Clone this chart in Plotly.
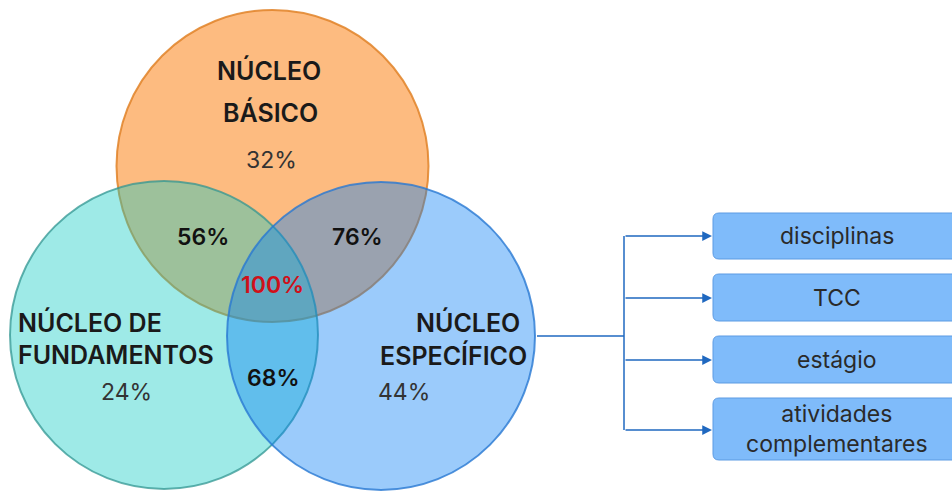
import plotly.graph_objects as go

# ---------------- data ----------------
core_names = ["NÚCLEO BÁSICO", "NÚCLEO DE FUNDAMENTOS", "NÚCLEO ESPECÍFICO"]
core_pcts = [32, 24, 44]
pair_names = ["BÁSICO + FUNDAMENTOS", "BÁSICO + ESPECÍFICO", "FUNDAMENTOS + ESPECÍFICO"]
pair_pcts = [56, 76, 68]
all_pct = 100
components = ["disciplinas", "TCC", "estágio", "atividades<br>complementares"]

# ---------------- layout / style ----------------
W, H = 952, 491
FONT = "Inter"
circles = [  # (cx, cy, r, fill, line)
    (272.5, 166, 156, "rgba(252,141,43,0.6)", "rgba(225,130,40,0.85)"),
    (164, 335, 154, "rgba(12,202,195,0.4)", "rgba(50,150,145,0.75)"),
    (381, 336, 154, "rgba(5,125,245,0.4)", "rgba(40,120,210,0.8)"),
]

fig = go.Figure()
fig.update_layout(
    width=W, height=H, margin=dict(l=0, r=0, t=0, b=0),
    paper_bgcolor="white", plot_bgcolor="white", showlegend=False,
    xaxis=dict(range=[0, W], visible=False, fixedrange=True),
    yaxis=dict(range=[H, 0], visible=False, fixedrange=True),
)

for cx, cy, r, fc, lc in circles:
    fig.add_shape(type="circle", x0=cx - r, x1=cx + r, y0=cy - r, y1=cy + r,
                  fillcolor=fc, line=dict(color=lc, width=2), layer="above")

def ann(text, x, y, size, color="#1a1a1a", weight=400, xanchor="center"):
    fig.add_annotation(x=x, y=y, text=text, showarrow=False, xanchor=xanchor,
                       yanchor="middle",
                       font=dict(family=FONT, size=size, color=color, weight=weight))

TITLE_SIZE = 25
PCT_SIZE = 23
# core labels
b1, b2 = core_names[0].split(" ", 1)
ann(b1, 269, 70, TITLE_SIZE, weight=600)
ann(b2, 270, 112, TITLE_SIZE, weight=600)
ann(f"{core_pcts[0]}%", 271, 160, PCT_SIZE, color="#333333")

f1, f2 = core_names[1].rsplit(" ", 1)
ann(f1, 16, 322, TITLE_SIZE, weight=600, xanchor="left")
ann(f2, 16, 355, TITLE_SIZE, weight=600, xanchor="left")
ann(f"{core_pcts[1]}%", 126, 392, PCT_SIZE, color="#333333")

e1, e2 = core_names[2].split(" ", 1)
ann(e1, 522, 322, TITLE_SIZE, weight=600, xanchor="right")
ann(e2, 529, 355, TITLE_SIZE, weight=600, xanchor="right")
ann(f"{core_pcts[2]}%", 376, 392, PCT_SIZE, color="#333333", xanchor="left")

# intersections
pair_pos = [(203, 237), (357, 237), (273, 378)]
for (px, py), v in zip(pair_pos, pair_pcts):
    ann(f"{v}%", px, py, PCT_SIZE, color="#111111", weight=600)
ann(f"{all_pct}%", 272, 285, PCT_SIZE, color="#d0101a", weight=600)

# connector lines
LC = "#1f68c0"
trunk_x = 624
box_x0, box_x1 = 713, 965
box_rows = [(213, 259), (274, 321), (336, 383), (398, 460)]
arrow_y = [236, 298, 360, 430]
fig.add_shape(type="line", x0=537, x1=trunk_x, y0=336, y1=336,
              line=dict(color=LC, width=1.5))
fig.add_shape(type="line", x0=trunk_x, x1=trunk_x, y0=arrow_y[0], y1=arrow_y[-1],
              line=dict(color=LC, width=1.5))

def rrect(x0, y0, x1, y1, r):
    return (f"M {x0+r},{y0} L {x1-r},{y0} Q {x1},{y0} {x1},{y0+r} "
            f"L {x1},{y1-r} Q {x1},{y1} {x1-r},{y1} L {x0+r},{y1} "
            f"Q {x0},{y1} {x0},{y1-r} L {x0},{y0+r} Q {x0},{y0} {x0+r},{y0} Z")

for (y0, y1), ay, label in zip(box_rows, arrow_y, components):
    fig.add_shape(type="path", path=rrect(box_x0, y0, box_x1, y1, 6),
                  fillcolor="#7fbbfa", line=dict(color="#5d9be3", width=1))
    fig.add_annotation(x=box_x0 - 1, y=ay, ax=trunk_x, ay=ay, axref="x", ayref="y",
                       xref="x", yref="y", text="", showarrow=True,
                       arrowhead=2, arrowsize=1.3, arrowwidth=1.5, arrowcolor=LC,
                       standoff=0, startstandoff=0)
    fig.add_annotation(x=837, y=(y0 + y1) / 2, text=label, showarrow=False,
                       xanchor="center", yanchor="middle",
                       font=dict(family=FONT, size=23, color="#2a2a2a"))

fig.write_html("out.html")
